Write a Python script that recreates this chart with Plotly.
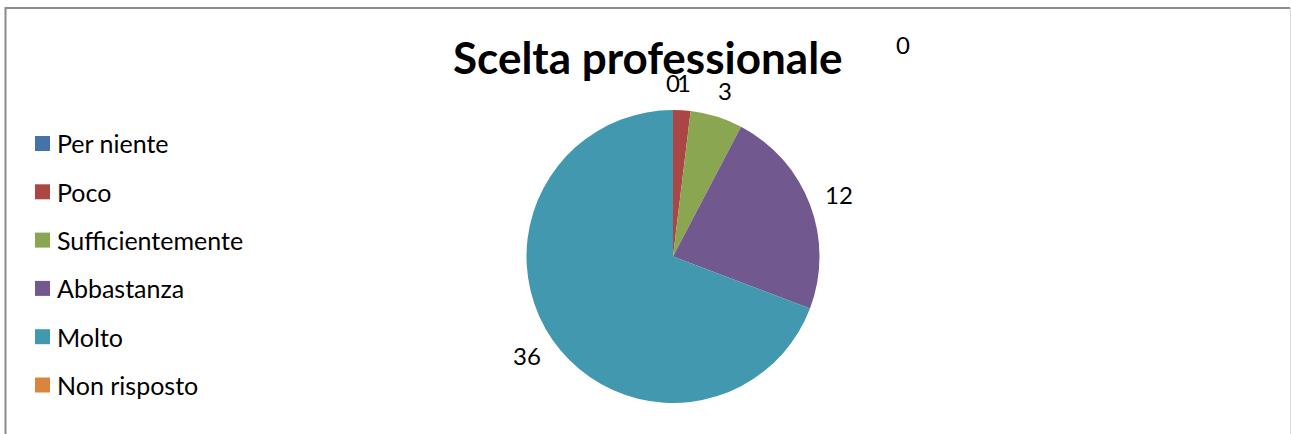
import math
import plotly.graph_objects as go

# Survey answers for "Scelta professionale"
categories = ["Per niente", "Poco", "Sufficientemente", "Abbastanza", "Molto", "Non risposto"]
counts = [0, 1, 3, 12, 36, 0]
colors = ["#4572A7", "#AA4644", "#8BA650", "#71588F", "#4198AF", "#DB843D"]
title_text = "Scelta professionale"

W, H = 1291, 434
FONT = "Lato"

# pie geometry in pixels
cx, cy, r = 673, 256.5, 146.5

fig = go.Figure(go.Pie(
    labels=categories,
    values=counts,
    marker=dict(colors=colors, line=dict(width=0)),
    sort=False,
    direction="clockwise",
    rotation=0,
    textinfo="none",
    hoverinfo="label+value",
    showlegend=False,
    domain=dict(x=[(cx - r) / W, (cx + r) / W],
                y=[1 - (cy + r) / H, 1 - (cy - r) / H]),
))

annotations = []
shapes = []

# value labels placed around the pie at each slice's mid-angle
total = sum(counts)
cum = 0
label_r = 174
for i, (cat, v) in enumerate(zip(categories, counts)):
    mid = (cum + v / 2) / total * 2 * math.pi
    cum += v
    if i == len(categories) - 1:
        # last zero label is pushed away from the crowded top
        lx, ly = 903, 44
    else:
        s, c = math.sin(mid), math.cos(mid)
        # widen the offset a little sideways so wide labels clear the edge
        lx = cx + (label_r + 4 * abs(s)) * s
        ly = cy - label_r * c
    annotations.append(dict(
        x=lx / W, y=1 - ly / H, xref="paper", yref="paper",
        text=str(v), showarrow=False, xanchor="center", yanchor="middle",
        font=dict(family=FONT, size=24, color="#000000"),
    ))

# title
annotations.append(dict(
    x=648 / W, y=1 - 57 / H, xref="paper", yref="paper",
    text="<b>" + title_text + "</b>", showarrow=False,
    xanchor="center", yanchor="middle",
    font=dict(family=FONT, size=44, color="#000000"),
))

# legend: coloured squares with category names
leg_y0, leg_step = 143.5, 48.3
for i, (cat, col) in enumerate(zip(categories, colors)):
    yc = leg_y0 + i * leg_step
    shapes.append(dict(
        type="rect", xref="paper", yref="paper",
        x0=35 / W, x1=50 / W, y0=1 - (yc + 7.5) / H, y1=1 - (yc - 7.5) / H,
        fillcolor=col, line=dict(width=0),
    ))
    annotations.append(dict(
        x=55 / W, y=1 - yc / H, xref="paper", yref="paper",
        text=cat, showarrow=False, xanchor="left", yanchor="middle",
        font=dict(family=FONT, size=25, color="#000000"),
    ))

# chart area frame
shapes += [
    dict(type="line", xref="paper", yref="paper",
         x0=5.5 / W, x1=5.5 / W, y0=0, y1=1 - 7 / H,
         line=dict(color="#8C8C8C", width=2)),
    dict(type="line", xref="paper", yref="paper",
         x0=5 / W, x1=1290 / W, y0=1 - 8 / H, y1=1 - 8 / H,
         line=dict(color="#8C8C8C", width=2)),
    dict(type="line", xref="paper", yref="paper",
         x0=1290.5 / W, x1=1290.5 / W, y0=0, y1=1 - 8 / H,
         line=dict(color="#D9D9D9", width=1)),
]

fig.update_layout(
    width=W, height=H, autosize=False,
    margin=dict(l=0, r=0, t=0, b=0),
    paper_bgcolor="#FFFFFF", plot_bgcolor="#FFFFFF",
    annotations=annotations, shapes=shapes,
)

fig.write_html("out.html")
